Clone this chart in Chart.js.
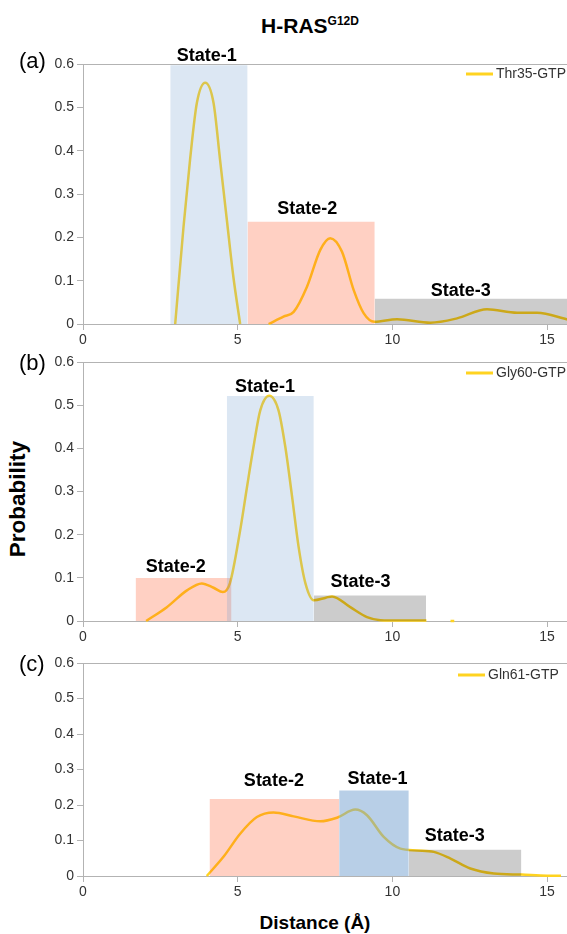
<!DOCTYPE html>
<html>
<head>
<meta charset="utf-8">
<script src="https://cdn.jsdelivr.net/npm/chart.js@4.4.0/dist/chart.umd.min.js"></script>
<style>
html,body{margin:0;padding:0;width:567px;height:934px;overflow:hidden;background:#fff;font-family:"Liberation Sans",Arial,sans-serif;}
.panel{position:absolute;left:0;width:578px;}
canvas{display:block;}
.txt{position:absolute;color:#000;white-space:nowrap;}
#title{left:210px;width:200px;top:15px;text-align:center;font-weight:bold;font-size:21px;line-height:21px;}
#title sup{font-size:12px;position:relative;top:-8px;vertical-align:baseline;}
.tag{font-size:22px;line-height:22px;left:19px;}
#ylab{font-weight:bold;font-size:22.5px;line-height:24px;left:17.5px;top:498.5px;transform:translate(-50%,-50%) rotate(-90deg);}
#xlab{font-weight:bold;font-size:19px;line-height:20px;left:315px;top:923px;transform:translate(-50%,-50%);}
</style>
</head>
<body>
<div id="title" class="txt">H-RAS<sup>G12D</sup></div>
<div id="ylab" class="txt">Probability</div>
<div id="xlab" class="txt">Distance (Å)</div>
<script>
// ---------- data ----------
const panelTags = ['(a)', '(b)', '(c)'];
const seriesNames = ['Thr35-GTP', 'Gly60-GTP', 'Gln61-GTP'];
const stateNames = ['State-1', 'State-2', 'State-3'];
const xTickStep = 5;
const yTickStep = 0.1;

// probability curves (distance in Å, probability); null = no data (gap)
const thr35X = [2.98, 3.25, 3.46, 3.68, 3.95, 4.22, 4.43, 4.65, 4.86, 5.08, 5.5, 6.0, 6.48, 6.81, 7.24, 7.67, 7.99, 8.37, 8.75, 9.07, 9.42, 10.15, 11.23, 12.09, 13.06, 14.03, 14.68, 15.7, 16.0];
const thr35Y = [0, 0.225, 0.379, 0.51, 0.557, 0.51, 0.379, 0.24, 0.109, 0, null, 0, 0.017, 0.028, 0.086, 0.171, 0.198, 0.167, 0.078, 0.025, 0.005, 0.011, 0.003, 0.013, 0.034, 0.026, 0.026, 0.01, 0.006];

const gly60X = [2.04, 2.71, 3.36, 3.84, 4.22, 4.52, 4.75, 5.08, 5.30, 5.51, 5.73, 6.02, 6.32, 6.54, 6.76, 6.97, 7.19, 7.46, 7.85, 8.05, 8.64, 9.18, 9.61, 10.3, 11.1, 11.5, 11.88, 12.0];
const gly60Y = [0, 0.032, 0.071, 0.087, 0.077, 0.067, 0.088, 0.21, 0.31, 0.403, 0.488, 0.522, 0.488, 0.403, 0.287, 0.171, 0.087, 0.048, 0.054, 0.057, 0.032, 0.009, 0.002, 0.001, 0.001, null, 0, 0];

const gln61X = [4.0, 4.54, 5.08, 5.62, 6.16, 6.81, 7.67, 8.21, 8.80, 9.18, 9.72, 10.26, 10.80, 11.34, 11.88, 12.52, 13.28, 14.17, 15.0, 15.45];
const gln61Y = [0, 0.054, 0.119, 0.166, 0.179, 0.168, 0.154, 0.164, 0.187, 0.171, 0.11, 0.077, 0.072, 0.068, 0.049, 0.021, 0.007, 0.004, 0.001, 0.001];

// state boxes (State-1, State-2, State-3)
const thr35StateStart = [2.82, 5.32, 9.43];
const thr35StateEnd   = [5.32, 9.43, 16.5];
const thr35StateTop   = [0.597, 0.236, 0.058];
const gly60StateStart = [4.65, 1.70, 7.46];
const gly60StateEnd   = [7.46, 4.80, 11.09];
const gly60StateTop   = [0.521, 0.0995, 0.059];
const gln61StateStart = [8.28, 4.09, 10.53];
const gln61StateEnd   = [10.53, 8.28, 14.17];
const gln61StateTop   = [0.241, 0.217, 0.074];

// state label anchors (distance, probability)
const thr35LabelX = [4.0, 7.25, 12.21];
const thr35LabelY = [0.619, 0.265, 0.077];
const gly60LabelX = [5.88, 3.0, 8.97];
const gly60LabelY = [0.542, 0.125, 0.090];
const gln61LabelX = [9.52, 6.17, 12.02];
const gln61LabelY = [0.274, 0.268, 0.112];

// ---------- styling / layout ----------
const curveColor = '#ffd320';
const stateColorsA = ['rgba(114,159,207,0.25)', 'rgba(255,66,14,0.25)', 'rgba(0,0,0,0.2)'];
const stateColorsC = ['rgba(114,159,207,0.5)', 'rgba(255,66,14,0.25)', 'rgba(0,0,0,0.2)'];
const axisColor = '#b3b3b3';
const FONT = '"Liberation Sans", Arial, sans-serif';

const panels = [
  {xs: thr35X, ys: thr35Y, s0: thr35StateStart, s1: thr35StateEnd, st: thr35StateTop, lx: thr35LabelX, ly: thr35LabelY, colors: stateColorsA,
   top: 40, height: 310, padTop: 24, axisH: 26, legendLeft: 466, legendDy: 10, tagTop: 50},
  {xs: gly60X, ys: gly60Y, s0: gly60StateStart, s1: gly60StateEnd, st: gly60StateTop, lx: gly60LabelX, ly: gly60LabelY, colors: stateColorsA,
   top: 340, height: 310, padTop: 22, axisH: 29, legendLeft: 466, legendDy: 11, tagTop: 352},
  {xs: gln61X, ys: gln61Y, s0: gln61StateStart, s1: gln61StateEnd, st: gln61StateTop, lx: gln61LabelX, ly: gln61LabelY, colors: stateColorsC,
   top: 640, height: 265, padTop: 23, axisH: 29, legendLeft: 458, legendDy: 12, tagTop: 653}
];

const stateLabelPlugin = {
  id: 'stateLabels',
  afterDraw(chart, args, opts) {
    const ctx = chart.ctx, xs = chart.scales.x, ys = chart.scales.y;
    ctx.save();
    ctx.font = 'bold 18px ' + FONT;
    ctx.fillStyle = '#000';
    ctx.textAlign = 'center';
    ctx.textBaseline = 'middle';
    opts.names.forEach((n, i) => {
      ctx.fillText(n, xs.getPixelForValue(opts.x[i]), ys.getPixelForValue(opts.y[i]));
    });
    // legend
    const a = chart.chartArea;
    const ly = a.top + opts.legendDy;
    ctx.strokeStyle = curveColor;
    ctx.lineWidth = 3;
    ctx.beginPath();
    ctx.moveTo(opts.legendLeft, ly);
    ctx.lineTo(opts.legendLeft + 27, ly);
    ctx.stroke();
    ctx.font = '14px ' + FONT;
    ctx.fillStyle = '#333';
    ctx.textAlign = 'left';
    ctx.fillText(chart.data.datasets[0].label, opts.legendLeft + 30, ly + 0.5);
    ctx.restore();
  }
};

panels.forEach((p, idx) => {
  const div = document.createElement('div');
  div.className = 'panel';
  div.style.top = p.top + 'px';
  div.style.height = p.height + 'px';
  const cv = document.createElement('canvas');
  cv.width = 578; cv.height = p.height;
  div.appendChild(cv);
  document.body.appendChild(div);

  const tag = document.createElement('div');
  tag.className = 'txt tag';
  tag.style.top = p.tagTop + 'px';
  tag.textContent = panelTags[idx];
  document.body.appendChild(tag);

  const datasets = [{
    label: seriesNames[idx],
    data: p.xs.map((x, i) => ({x: x, y: p.ys[i]})),
    borderColor: curveColor,
    borderWidth: 2.5,
    pointRadius: 0,
    fill: false,
    cubicInterpolationMode: 'monotone',
    spanGaps: false,
    clip: 4,
    order: 5
  }];
  stateNames.forEach((n, i) => {
    datasets.push({
      label: n,
      data: [{x: p.s0[i], y: p.st[i]}, {x: p.s1[i], y: p.st[i]}],
      borderWidth: 0,
      borderColor: 'rgba(0,0,0,0)',
      backgroundColor: p.colors[i],
      pointRadius: 0,
      fill: 'origin',
      tension: 0,
      order: 1
    });
  });

  new Chart(cv, {
    type: 'line',
    data: {datasets},
    options: {
      responsive: false,
      animation: false,
      devicePixelRatio: 1,
      layout: {padding: {top: p.padTop, left: 0, right: 0, bottom: 0}},
      plugins: {
        legend: {display: false},
        tooltip: {enabled: false},
        stateLabels: {names: stateNames, x: p.lx, y: p.ly, legendLeft: p.legendLeft, legendDy: p.legendDy}
      },
      scales: {
        x: {
          type: 'linear', min: 0, max: 16,
          ticks: {stepSize: xTickStep, includeBounds: false, color: '#333', font: {family: FONT, size: 14}, padding: 2, maxRotation: 0},
          grid: {color: 'rgba(0,0,0,0)', tickColor: axisColor, tickLength: 6, drawOnChartArea: false},
          border: {color: axisColor, width: 1},
          afterFit: (ax) => { ax.height = p.axisH; }
        },
        y: {
          type: 'linear', min: 0, max: 0.6,
          ticks: {stepSize: yTickStep, includeBounds: false, color: '#333', font: {family: FONT, size: 14}, padding: 3,
                  callback: (v) => v === 0 ? '0' : v.toFixed(1)},
          grid: {color: (c) => (c.tick && Math.abs(c.tick.value - 0.6) < 1e-9) ? axisColor : 'rgba(0,0,0,0)', tickColor: axisColor, tickLength: 6},
          border: {color: axisColor, width: 1},
          afterFit: (ax) => { ax.width = 83; }
        }
      }
    },
    plugins: [stateLabelPlugin]
  });
});
</script>
</body>
</html>
